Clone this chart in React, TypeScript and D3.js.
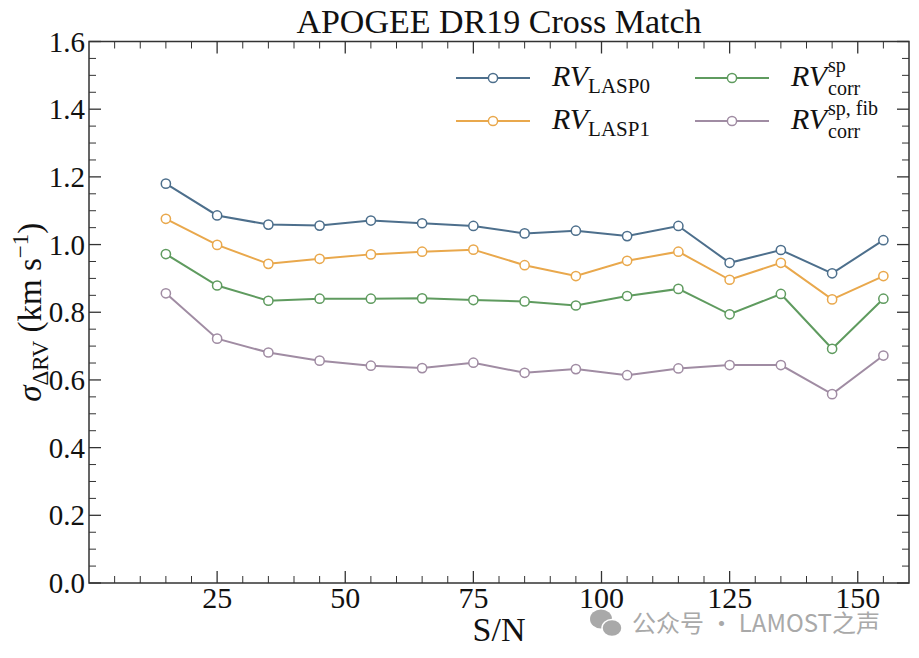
import * as d3 from 'd3'

// S/N bin centres
const snr = [15, 25, 35, 45, 55, 65, 75, 85, 95, 105, 115, 125, 135, 145, 155]

const rvLasp0 = [1.180, 1.086, 1.059, 1.056, 1.071, 1.063, 1.055, 1.033, 1.041, 1.025, 1.055, 0.946, 0.984, 0.915, 1.013]
const rvLasp1 = [1.076, 0.999, 0.943, 0.958, 0.971, 0.979, 0.985, 0.939, 0.907, 0.952, 0.979, 0.896, 0.946, 0.838, 0.907]
const rvCorrSp = [0.972, 0.879, 0.834, 0.840, 0.840, 0.841, 0.836, 0.832, 0.820, 0.848, 0.869, 0.794, 0.854, 0.692, 0.840]
const rvCorrSpFib = [0.856, 0.722, 0.681, 0.657, 0.642, 0.635, 0.651, 0.621, 0.632, 0.614, 0.634, 0.644, 0.644, 0.558, 0.672]

const xMajor = [25, 50, 75, 100, 125, 150]
const yMajor = [0, 0.2, 0.4, 0.6, 0.8, 1.0, 1.2, 1.4, 1.6]

const SERIES = [
  { key: 'l0', vals: rvLasp0, color: '#4d6f8c', sub: 'LASP0', sup: '' },
  { key: 'l1', vals: rvLasp1, color: '#e9a84c', sub: 'LASP1', sup: '' },
  { key: 'sp', vals: rvCorrSp, color: '#5f9b5f', sub: 'corr', sup: 'sp' },
  { key: 'fib', vals: rvCorrSpFib, color: '#a08ca3', sub: 'corr', sup: 'sp, fib' },
]

const W = 919, H = 658
const m = { l: 89, r: 10, t: 41.5, b: 75 }
const FONT = '"Liberation Serif", "Times New Roman", serif'
const AX = '#333'

export default function App() {
  const x = d3.scaleLinear().domain([0, 160]).range([m.l, W - m.r])
  const y = d3.scaleLinear().domain([0, 1.6]).range([H - m.b, m.t])
  const [x0, x1] = x.range(), [y0, y1] = y.range()
  const xMinor = d3.range(5, 160, 5).filter(v => !xMajor.includes(v))
  const yMinor = d3.range(0.05, 1.6, 0.05).filter(v => !yMajor.some(t => Math.abs(t - v) < 1e-6))
  const line = d3.line<number>().x((_, i) => x(snr[i])).y(v => y(v))
  const MJ = 12, MN = 7

  // legend layout
  const legCols = [456, 695], legRows = [78, 121], legLen = 74

  return (
    <svg width={W} height={H} style={{ position: 'absolute', left: 0, top: 0, background: '#fff' }} fontFamily={FONT}>
      <rect width={W} height={H} fill="#fff" />
      <text x={(x0 + x1) / 2} y={33} textAnchor="middle" fontSize={34} fill="#111">APOGEE DR19 Cross Match</text>

      {/* series */}
      {SERIES.map(s => (
        <g key={s.key}>
          <path d={line(s.vals)!} fill="none" stroke={s.color} strokeWidth={2} />
          {s.vals.map((v, i) => (
            <circle key={i} cx={x(snr[i])} cy={y(v)} r={4.6} fill="#fff" stroke={s.color} strokeWidth={1.5} />
          ))}
        </g>
      ))}

      {/* frame */}
      <rect x={x0} y={y1} width={x1 - x0} height={y0 - y1} fill="none" stroke={AX} strokeWidth={1.5} />

      {/* x ticks bottom/top */}
      {xMajor.map(v => (
        <g key={'xm' + v}>
          <line x1={x(v)} x2={x(v)} y1={y0} y2={y0 - MJ} stroke={AX} strokeWidth={1.3} />
          <line x1={x(v)} x2={x(v)} y1={y1} y2={y1 + MJ} stroke={AX} strokeWidth={1.3} />
          <text x={x(v)} y={y0 + 25} textAnchor="middle" fontSize={30} fill="#111">{v}</text>
        </g>
      ))}
      {xMinor.map(v => (
        <g key={'xn' + v}>
          <line x1={x(v)} x2={x(v)} y1={y0} y2={y0 - MN} stroke={AX} strokeWidth={1} />
          <line x1={x(v)} x2={x(v)} y1={y1} y2={y1 + MN} stroke={AX} strokeWidth={1} />
        </g>
      ))}

      {/* y ticks left/right */}
      {yMajor.map(v => (
        <g key={'ym' + v}>
          <line x1={x0} x2={x0 + MJ} y1={y(v)} y2={y(v)} stroke={AX} strokeWidth={1.3} />
          <line x1={x1} x2={x1 - MJ} y1={y(v)} y2={y(v)} stroke={AX} strokeWidth={1.3} />
          <text x={x0 - 4} y={y(v) + 10} textAnchor="end" fontSize={29} fill="#111">{d3.format('.1f')(v)}</text>
        </g>
      ))}
      {yMinor.map(v => (
        <g key={'yn' + v}>
          <line x1={x0} x2={x0 + MN} y1={y(v)} y2={y(v)} stroke={AX} strokeWidth={1} />
          <line x1={x1} x2={x1 - MN} y1={y(v)} y2={y(v)} stroke={AX} strokeWidth={1} />
        </g>
      ))}

      {/* axis labels */}
      <text x={(x0 + x1) / 2} y={641} textAnchor="middle" fontSize={34} fill="#111">S/N</text>
      <text transform={`translate(41,${(y0 + y1) / 2}) rotate(-90)`} textAnchor="middle" fontSize={33} fill="#111">
        <tspan fontStyle="italic">σ</tspan>
        <tspan fontSize={23} dy={7}>ΔRV</tspan>
        <tspan dy={-7}> (km s</tspan>
        <tspan fontSize={23} dy={-13}>−1</tspan>
        <tspan dy={13}>)</tspan>
      </text>

      {/* legend */}
      {SERIES.map((s, i) => {
        const lx = legCols[Math.floor(i / 2)], ly = legRows[i % 2]
        return (
          <g key={'lg' + s.key}>
            <line x1={lx} x2={lx + legLen} y1={ly} y2={ly} stroke={s.color} strokeWidth={2} />
            <circle cx={lx + legLen / 2} cy={ly} r={4.6} fill="#fff" stroke={s.color} strokeWidth={1.5} />
            <text x={lx + 96} y={ly + 8} fontSize={30} fill="#111">
              <tspan fontStyle="italic">RV</tspan>
              {s.sup === '' ? (
                <tspan fontSize={21} dy={7}>{s.sub}</tspan>
              ) : null}
            </text>
            {s.sup !== '' ? (
              <g>
                <text x={lx + 133} y={ly - 6} fontSize={20} fill="#111">{s.sup}</text>
                <text x={lx + 133} y={ly + 17} fontSize={20} fill="#111">{s.sub}</text>
              </g>
            ) : null}
          </g>
        )
      })}

      {/* watermark */}
      <g fill="#a9a9a9">
        <ellipse cx={601} cy={619} rx={11} ry={9.5} />
        <ellipse cx={612} cy={628} rx={10} ry={8.5} stroke="#fff" strokeWidth={1.5} />
        <text x={632} y={632} fontSize={24} fontFamily='"Noto Sans CJK SC", "Noto Sans", sans-serif'>公众号 · LAMOST之声</text>
      </g>
    </svg>
  )
}
